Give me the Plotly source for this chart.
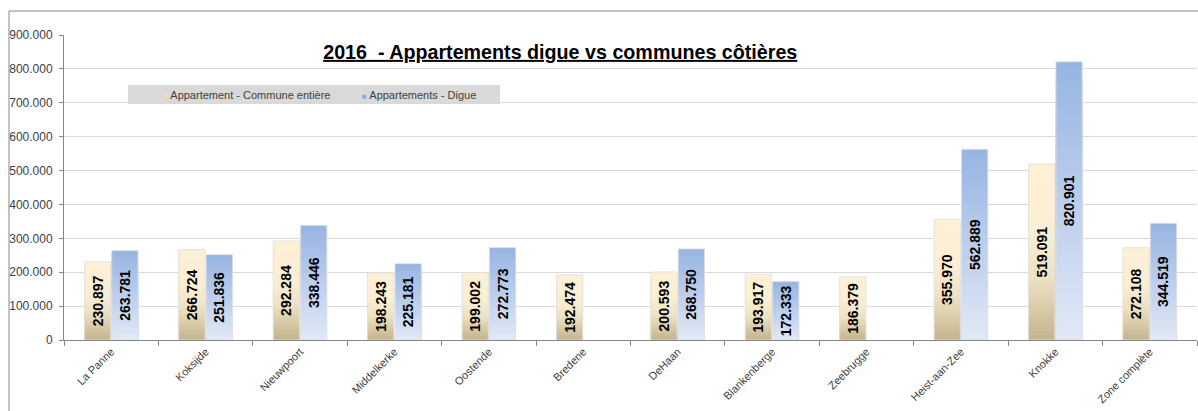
import plotly.graph_objects as go

categories = ["La Panne", "Koksijde", "Nieuwpoort", "Middelkerke", "Oostende", "Bredene",
              "DeHaan", "Blankenberge", "Zeebrugge", "Heist-aan-Zee", "Knokke", "Zone complète"]
commune = [230897, 266724, 292284, 198243, 199002, 192474, 200593, 193917, 186379, 355970, 519091, 272108]
digue = [263781, 251836, 338446, 225181, 272773, None, 268750, 172333, None, 562889, 820901, 344519]
series_names = ["Appartement - Commune entière", "Appartements - Digue"]
title_text = "2016&nbsp; - Appartements digue vs communes côtières"

# gradient stops (bottom -> top)
beige_stops = [(0.0, (196, 180, 140)), (0.35, (236, 225, 196)), (0.6, (250, 238, 212)), (1.0, (253, 240, 213))]
blue_stops = [(0.0, (226, 233, 246)), (0.5, (188, 206, 236)), (1.0, (150, 180, 226))]


def interp(stops, t):
    for (t0, c0), (t1, c1) in zip(stops[:-1], stops[1:]):
        if t0 <= t <= t1:
            f = (t - t0) / (t1 - t0) if t1 > t0 else 0
            c = [round(a + (b - a) * f) for a, b in zip(c0, c1)]
            return "rgb(%d,%d,%d)" % tuple(c)
    return "rgb(%d,%d,%d)" % stops[-1][1]


N = 40
fig = go.Figure()
for name, vals, stops, grp, legcol in [
    (series_names[0], commune, beige_stops, "a", "rgb(240,222,175)"),
    (series_names[1], digue, blue_stops, "b", "rgb(140,172,222)"),
]:
    # overlaid layers, tallest first, to build a vertical gradient per bar
    for k in range(N):
        frac = (N - k) / N
        seg = [None if v is None else v * frac for v in vals]
        fig.add_trace(go.Bar(
            x=categories, y=seg, offsetgroup=grp,
            marker=dict(color=interp(stops, (N - k - 0.5) / N), line=dict(width=0)),
            showlegend=False, hoverinfo="skip",
        ))
    # outline + label trace
    fig.add_trace(go.Bar(
        x=categories, y=vals, offsetgroup=grp, name=name,
        marker=dict(color="rgba(0,0,0,0)", line=dict(width=1, color="rgba(225,225,225,0.9)")),
        text=vals, texttemplate="%{y:,.0f}", textposition="inside",
        insidetextanchor="middle", textangle=-90,
        textfont=dict(family="Liberation Sans, Arial", size=14, color="black", weight="bold"),
        showlegend=False,
    ))
    # legend-only trace (symbol drawn as small square in the label)
    fig.add_trace(go.Scatter(
        x=[None], y=[None], mode="markers",
        name='<span style="color:%s;font-size:8px">■</span> %s' % (legcol, name),
        marker=dict(size=1, color="rgba(0,0,0,0)"), showlegend=True,
    ))

fig.update_layout(
    width=1198, height=411,
    margin=dict(l=64, r=1, t=35, b=71),
    paper_bgcolor="white", plot_bgcolor="white",
    barmode="group", bargap=0.42, bargroupgap=0.04,
    separators=",.",
    font=dict(family="Liberation Sans, Arial", color="#404040", size=11),
    title=dict(text="<u><b>" + title_text + "</b></u>", x=0.438, xref="paper", xanchor="center",
               y=1 - 52 / 411, yref="container", yanchor="middle",
               font=dict(size=19.7, color="black", family="Liberation Sans, Arial")),
    legend=dict(orientation="h", x=(123 - 64) / 1133, y=(340 - 94.5) / 305, xanchor="left",
                yanchor="middle", bgcolor="rgba(0,0,0,0)", font=dict(size=11, color="#404040"),
                entrywidth=154, entrywidthmode="pixels", itemwidth=30),
    uniformtext=dict(minsize=8, mode="show"),
)
fig.update_yaxes(range=[0, 900000], dtick=100000, tickformat=",.0f", showgrid=True,
                 gridcolor="#d9d9d9", gridwidth=1, showline=True, linecolor="#868686",
                 ticks="outside", ticklen=4, tickcolor="#868686", zeroline=False,
                 ticklabelstandoff=4,
                 tickfont=dict(size=12, color="#404040"))
fig.update_xaxes(showline=True, linecolor="#868686", ticks="outside", tickson="boundaries",
                 ticklen=5, tickcolor="#868686", tickangle=-45,
                 tickfont=dict(size=11, color="#404040"))

# legend background box
fig.add_shape(type="rect", xref="paper", yref="paper", layer="between",
              x0=(128 - 64) / 1133, x1=(500 - 64) / 1133,
              y0=(340 - 104) / 305, y1=(340 - 85) / 305,
              fillcolor="#d9d9d9", line=dict(width=0))

# outer chart frame
fig.add_shape(type="line", xref="paper", yref="paper", x0=(9 - 64) / 1133, x1=(9 - 64) / 1133,
              y0=(340 - 420) / 305, y1=(340 - 11) / 305, line=dict(color="#868686", width=1))
fig.add_shape(type="line", xref="paper", yref="paper", x0=(9 - 64) / 1133, x1=1.01,
              y0=(340 - 11) / 305, y1=(340 - 11) / 305, line=dict(color="#868686", width=1))

fig.write_html("out.html", config={"displayModeBar": False},
               post_script="document.body.style.margin='0';document.body.style.overflow='hidden';")
